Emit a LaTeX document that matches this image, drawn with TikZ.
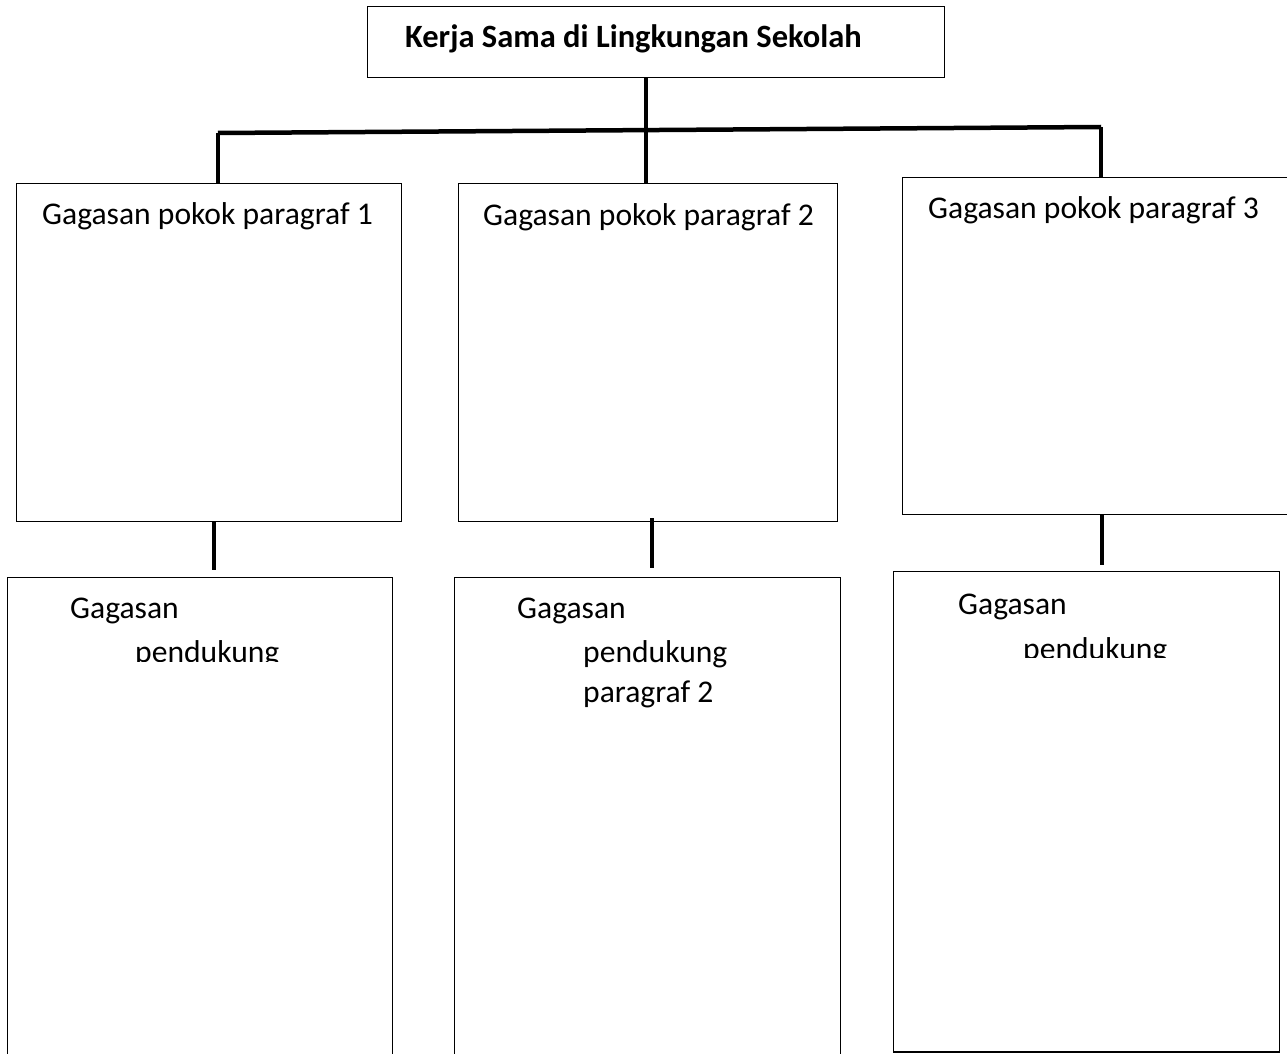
\documentclass[tikz,border=0pt]{standalone}
\usepackage{fontspec}
\setmainfont{Carlito}
\begin{document}
\begin{tikzpicture}[x=1pt,y=-1pt,
  box/.style={draw=black, line width=1.3pt, rectangle, inner sep=0pt, anchor=north west},
  conn/.style={draw=black, line width=4pt},
  stemline/.style={draw=black, line width=3.2pt},
  lbl/.style={anchor=base west, inner sep=0pt, font=\fontsize{31.6}{38}\selectfont},
  ttl/.style={anchor=base west, inner sep=0pt, font=\fontsize{32.5}{38}\selectfont\bfseries}]
\useasboundingbox (0,0) rectangle (1287,1054);
\clip (0,0) rectangle (1287,1054);

% boxes
\node[box, minimum width=577pt, minimum height=71pt] (title) at (367,6) {};
\node[box, minimum width=385pt, minimum height=338pt] (p1) at (16,183) {};
\node[box, minimum width=379pt, minimum height=338pt] (p2) at (458,183) {};
\node[box, minimum width=420pt, minimum height=337pt] (p3) at (902,177) {};
\node[box, minimum width=385pt, minimum height=540pt] (s1) at (7,577) {};
\node[box, minimum width=386pt, minimum height=540pt] (s2) at (454,577) {};
\node[box, minimum width=386pt, minimum height=480pt] (s3) at (893,571) {};
\draw[line width=2pt] (s3.south west) -- (s3.south east);

% texts
\node[ttl] (ttext) at (405,48) {Kerja Sama di Lingkungan Sekolah};
\node[lbl] (p1t) at (42,224) {Gagasan pokok paragraf 1};
\node[lbl] (p2t) at (483,225) {Gagasan pokok paragraf 2};
\node[lbl] (p3t) at (928,218) {Gagasan pokok paragraf 3};
\node[lbl] (s1a) at (70,618) {Gagasan};
\begin{scope}
  \clip (0,600) rectangle (390,661);
  \node[lbl] (s1b) at (135,662) {pendukung};
\end{scope}
\node[lbl] (s2a) at (517,618) {Gagasan};
\node[lbl] (s2b) at (583,662) {pendukung};
\node[lbl] (s2c) at (583,702) {paragraf 2};
\node[lbl] (s3a) at (958,614) {Gagasan};
\begin{scope}
  \clip (895,595) rectangle (1277,657);
  \node[lbl] (s3b) at (1023,659) {pendukung};
\end{scope}

% connectors
\coordinate (bl) at (218,133);
\coordinate (bm) at (646,130);
\coordinate (br) at (1101,127);
\draw[stemline] (title.south -| bm) -- (bm |- p2.north);
\draw[line width=4.5pt] (bl) -- (br);
\draw[conn] (bl) -- (bl |- p1.north);
\draw[conn] (br) -- (br |- p3.north);

\coordinate (c1a) at (213.5,521);
\coordinate (c1b) at (213.5,570);
\coordinate (c2a) at (652,518);
\coordinate (c2b) at (652,568);
\coordinate (c3a) at (1102,514);
\coordinate (c3b) at (1102,565);
\draw[conn] (c1a) -- (c1b);
\draw[conn] (c2a) -- (c2b);
\draw[conn] (c3a) -- (c3b);
\end{tikzpicture}
\end{document}
